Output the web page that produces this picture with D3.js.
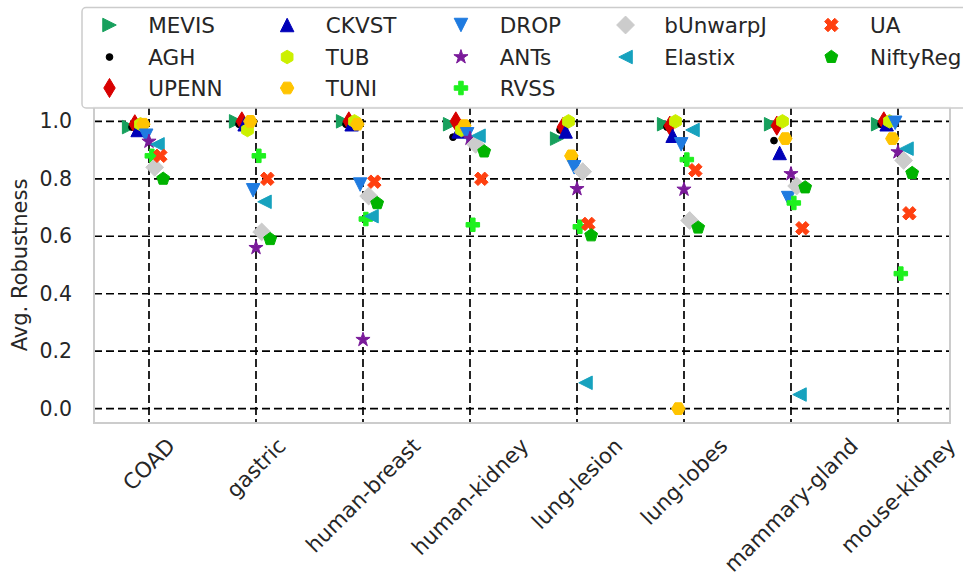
<!DOCTYPE html>
<html>
<head>
<meta charset="utf-8">
<script src="https://cdn.jsdelivr.net/npm/d3@7"></script>
<style>
  html, body { margin: 0; padding: 0; background: #fff; }
  svg { display: block; font-family: "DejaVu Sans", sans-serif; }
</style>
</head>
<body>
<svg id="chart" width="963" height="585"></svg>
<script>
// Datasets on the x axis
const categories = ["COAD", "gastric", "human-breast", "human-kidney",
                    "lung-lesion", "lung-lobes", "mammary-gland", "mouse-kidney"];

// Average robustness per method, one value per dataset (same order as categories)
const MEVIS    = [0.98, 1.00, 1.00, 0.99, 0.94, 0.99, 0.99, 0.99];
const AGH      = [0.98, 0.99, 0.99, 0.945, 0.97, 0.98, 0.933, 0.99];
const UPENN    = [0.99, 1.00, 1.00, 1.00, 0.98, 0.985, 0.985, 1.00];
const CKVST    = [0.97, 0.99, 0.99, 0.965, 0.965, 0.95, 0.89, 0.99];
const TUB      = [0.99, 0.97, 1.00, 0.97, 1.00, 1.00, 1.00, 1.00];
const TUNI     = [0.99, 1.00, 0.99, 0.985, 0.88, 0.00, 0.94, 0.94];
const DROP     = [0.95, 0.76, 0.78, 0.955, 0.84, 0.92, 0.733, 0.995];
const ANTs     = [0.93, 0.56, 0.24, 0.94, 0.765, 0.763, 0.817, 0.893];
const RVSS     = [0.88, 0.88, 0.66, 0.64, 0.633, 0.867, 0.716, 0.47];
const bUnwarpJ = [0.84, 0.615, 0.74, 0.92, 0.825, 0.655, 0.775, 0.864];
const Elastix  = [0.92, 0.72, 0.67, 0.95, 0.09, 0.97, 0.049, 0.905];
const UA       = [0.88, 0.80, 0.79, 0.80, 0.643, 0.83, 0.628, 0.68];
const NiftyReg = [0.80, 0.59, 0.715, 0.895, 0.603, 0.63, 0.77, 0.82];

const methodNames = ["MEVIS", "AGH", "UPENN", "CKVST", "TUB", "TUNI", "DROP",
                     "ANTs", "RVSS", "bUnwarpJ", "Elastix", "UA", "NiftyReg"];
const methodValues = [MEVIS, AGH, UPENN, CKVST, TUB, TUNI, DROP,
                      ANTs, RVSS, bUnwarpJ, Elastix, UA, NiftyReg];

const yTicks = [0.0, 0.2, 0.4, 0.6, 0.8, 1.0];
const yLabel = "Avg. Robustness";

// Marker styling per method
const markerShapes = [">", ".", "d", "^", "h", "H", "v", "*", "P", "D", "<", "X", "p"];
const markerColors = ["#17a05d", "#000000", "#d80000", "#0000b8", "#ccf000", "#ffc400",
                      "#1f7be0", "#7a1a9a", "#1ef01e", "#cccccc", "#17a2be", "#ff4010", "#00b300"];

// ---------- layout ----------
const svg = d3.select("#chart");
const plot = { left: 94, right: 950, top: 107, bottom: 423 };
const MS = 13.5;           // marker size (px)
const spreadStep = 0.0265; // per-method horizontal dodge, in category units

const x = d3.scaleLinear().domain([-0.514, 7.486]).range([plot.left, plot.right]);
const y = d3.scaleLinear().domain([-0.05, 1.05]).range([plot.bottom, plot.top]);

// ---------- marker paths (unit size, y pointing down) ----------
function poly(pts) { return "M" + pts.map(p => p[0].toFixed(4) + "," + p[1].toFixed(4)).join("L") + "Z"; }
function regular(n, r, rot) {
  const pts = [];
  for (let k = 0; k < n; k++) {
    const a = -Math.PI / 2 + rot + k * 2 * Math.PI / n;
    pts.push([r * Math.cos(a), r * Math.sin(a)]);
  }
  return pts;
}
function star(r, inner) {
  const pts = [];
  for (let k = 0; k < 10; k++) {
    const a = -Math.PI / 2 + k * Math.PI / 5;
    const rr = k % 2 === 0 ? r : r * inner;
    pts.push([rr * Math.cos(a), rr * Math.sin(a)]);
  }
  return pts;
}
function markerPath(shape, s) {
  const sc = pts => pts.map(p => [p[0] * s, p[1] * s]);
  switch (shape) {
    case ">": return poly(sc([[0.5, 0], [-0.5, -0.5], [-0.5, 0.5]]));
    case "<": return poly(sc([[-0.5, 0], [0.5, -0.5], [0.5, 0.5]]));
    case "^": return poly(sc([[0, -0.5], [0.5, 0.5], [-0.5, 0.5]]));
    case "v": return poly(sc([[0, 0.5], [0.5, -0.5], [-0.5, -0.5]]));
    case "d": return poly(sc([[0, -0.707], [0.424, 0], [0, 0.707], [-0.424, 0]]));
    case "D": return poly(sc([[0, -0.66], [0.66, 0], [0, 0.66], [-0.66, 0]]));
    case "h": return poly(sc(regular(6, 0.5, 0)));
    case "H": return poly(sc(regular(6, 0.5, Math.PI / 6)));
    case "p": return poly(sc(regular(5, 0.5, 0)));
    case "*": return poly(sc(star(0.55, 0.381966)));
    case "P": return poly(sc([[-1, -3], [1, -3], [1, -1], [3, -1], [3, 1], [1, 1], [1, 3],
                              [-1, 3], [-1, 1], [-3, 1], [-3, -1], [-1, -1]].map(p => [p[0] / 6, p[1] / 6])));
    case "X": return poly(sc([[-1, -2], [0, -1], [1, -2], [2, -1], [1, 0], [2, 1], [1, 2],
                              [0, 1], [-1, 2], [-2, 1], [-1, 0], [-2, -1]].map(p => [p[0] / 4, p[1] / 4])));
    case ".": {
      const r = 0.25 * s;
      return `M${r},0A${r},${r} 0 1,1 ${-r},0A${r},${r} 0 1,1 ${r},0Z`;
    }
  }
}

// ---------- grid ----------
const grid = svg.append("g").attr("class", "grid");
grid.selectAll("line.h").data(yTicks).join("line")
  .attr("x1", plot.left).attr("x2", plot.right)
  .attr("y1", d => y(d)).attr("y2", d => y(d))
  .attr("stroke", "#000").attr("stroke-width", 1.7).attr("stroke-dasharray", "8,4");
grid.selectAll("line.v").data(categories).join("line")
  .attr("x1", (d, i) => x(i)).attr("x2", (d, i) => x(i))
  .attr("y1", plot.top).attr("y2", plot.bottom)
  .attr("stroke", "#000").attr("stroke-width", 1.7).attr("stroke-dasharray", "8,4");

// ---------- markers ----------
const marks = svg.append("g").attr("class", "marks");
methodNames.forEach((name, m) => {
  const off = (m - 7) * spreadStep;
  marks.append("g").attr("class", "series-" + name)
    .selectAll("path").data(methodValues[m]).join("path")
    .attr("d", markerPath(markerShapes[m], MS))
    .attr("transform", (v, i) => `translate(${x(i + off)},${y(v)})`)
    .attr("fill", markerColors[m])
    .attr("stroke", markerColors[m]).attr("stroke-width", 1)
    .attr("stroke-linejoin", "miter");
});

// ---------- frame ----------
svg.append("rect")
  .attr("x", plot.left).attr("y", plot.top)
  .attr("width", plot.right - plot.left).attr("height", plot.bottom - plot.top)
  .attr("fill", "none").attr("stroke", "#cccccc").attr("stroke-width", 2);

// ---------- y axis ----------
const yAxis = d3.axisLeft(y).tickValues(yTicks).tickFormat(d3.format(".1f")).tickSize(0).tickPadding(22);
const yg = svg.append("g").attr("transform", `translate(${plot.left},0)`).call(yAxis);
yg.select(".domain").remove();
yg.selectAll("text").attr("font-size", 20.5).attr("fill", "#262626")
  .attr("font-family", "DejaVu Sans");

svg.append("text")
  .attr("transform", `translate(27,${(plot.top + plot.bottom) / 2}) rotate(-90)`)
  .attr("text-anchor", "middle")
  .attr("font-size", 21).attr("fill", "#262626")
  .text(yLabel);

// ---------- x axis (rotated labels, bbox centred on tick) ----------
const xFont = 21.5;
const labelTop = 434;
const xg = svg.append("g").attr("class", "x-labels");
categories.forEach((c, i) => {
  const t = xg.append("text")
    .attr("font-size", xFont).attr("fill", "#262626")
    .attr("text-anchor", "middle").attr("dominant-baseline", "central")
    .text(c);
  const L = t.node().getComputedTextLength();
  const h = xFont * 1.05;
  const half = (L + h) / Math.SQRT2 / 2;
  t.attr("transform", `translate(${x(i)},${labelTop + half}) rotate(-45)`);
});

// ---------- legend (5 columns, filled column by column: 3,3,3,2,2) ----------
const legF = 21.5;
const legendCols = [[0, 1, 2], [3, 4, 5], [6, 7, 8], [9, 10], [11, 12]];
const legend = svg.append("g").attr("class", "legend");
const legBox = legend.append("rect")
  .attr("x", 82).attr("y", 7.5).attr("rx", 4).attr("ry", 4)
  .attr("height", 100.5)
  .attr("fill", "#fff").attr("fill-opacity", 0.9)
  .attr("stroke", "#cccccc").attr("stroke-width", 1.5);

const rowY = [25, 57, 88];
let colStart = 88;
let legendRight = 0;
legendCols.forEach(items => {
  let maxW = 0;
  items.forEach((m, r) => {
    legend.append("path")
      .attr("d", markerPath(markerShapes[m], MS))
      .attr("transform", `translate(${colStart + legF},${rowY[r]})`)
      .attr("fill", markerColors[m]).attr("stroke", markerColors[m]).attr("stroke-width", 1);
    const t = legend.append("text")
      .attr("x", colStart + 2.8 * legF).attr("y", rowY[r])
      .attr("dominant-baseline", "central")
      .attr("font-size", legF).attr("fill", "#262626")
      .text(methodNames[m]);
    maxW = Math.max(maxW, t.node().getComputedTextLength());
  });
  legendRight = colStart + 2.8 * legF + maxW;
  colStart = legendRight + 2.0 * legF;
});
legBox.attr("width", legendRight + 5 - 82);
</script>
</body>
</html>
